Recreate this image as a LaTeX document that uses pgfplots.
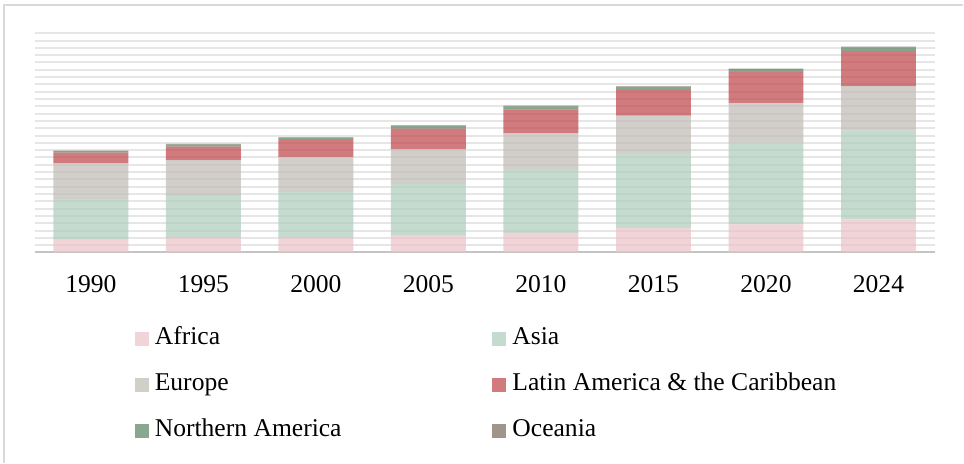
\documentclass[border=0pt]{standalone}
\usepackage{fontspec}
\setmainfont{Liberation Serif}
\usepackage{pgfplots}
\usepackage{pgfplotstable}
\pgfplotsset{compat=1.18}
\definecolor{cAfr}{HTML}{EAC2C7}
\definecolor{cAsia}{HTML}{AECDBC}
\definecolor{cEur}{HTML}{C0BAB3}
\definecolor{cLA}{HTML}{BF444A}
\definecolor{cNA}{HTML}{558360}
\definecolor{cOc}{HTML}{77695B}
\definecolor{gridC}{HTML}{E6E6E6}
\definecolor{axisC}{HTML}{C4C4C4}
\definecolor{frameC}{HTML}{D9D9D9}
\pgfplotsset{legimg/.style={legend image code/.code={\fill[##1] (0bp,-0.5bp) rectangle (7bp,6.5bp);}}}
\pgfplotstableread{
x Afr Asia Eur LA NA Oc
0 18.3 55.1 48.8 14.5 2.0 0.7
1 20.1 57.4 48.8 18.6 2.8 0.8
2 20.1 62.9 47.9 23.2 2.7 0.8
3 23.8 69.7 47.9 28.2 3.7 0.8
4 26.9 85.7 50.6 32.8 4.1 0.8
5 33.8 102.1 51.4 35.1 4.1 0.8
6 38.3 112.1 54.3 42.0 4.1 0.8
7 45.1 121.7 60.7 48.3 5.0 0.8
}\datatab
\begin{document}
\begin{tikzpicture}[font=\fontsize{12.8bp}{14bp}\selectfont]
\fill[white] (0,0) rectangle (482bp,-231.5bp);
\draw[line width=1bp, color=frameC] (2bp,-231.5bp) -- (2bp,-2.35bp) -- (482bp,-2.35bp);
\begin{axis}[
 at={(17.35bp,-126.35bp)}, anchor=south west,
 scale only axis, width=450.5bp, height=109.7bp,
 ybar stacked, bar width=37.5bp,
 xmin=-0.5, xmax=7.5, ymin=0, ymax=300,
 xtick=data, xticklabels={1990,1995,2000,2005,2010,2015,2020,2024},
 ytick={10,20,...,300}, yticklabels={},
 major tick length=0pt,
 ymajorgrids, grid style={draw=gridC, line width=1bp},
 axis line style={draw=none},
 extra y ticks={0}, extra y tick labels={},
 extra y tick style={grid style={draw=axisC, line width=1bp}},
 xticklabel style={anchor=base, yshift=-19.8bp},
 /pgf/number format/assume math mode=true,
 legend columns=2,
 legend style={at={(0.11132,-0.3387)}, anchor=north west, draw=none, fill=none,
   inner sep=0pt, outer sep=0pt, row sep=11bp,
   nodes={anchor=base west, inner sep=0pt, outer sep=0pt, text height=9bp, text depth=3bp},
   /tikz/every odd column/.append style={column sep=3bp}},
]
\addplot[legimg, fill=cAfr, draw=none, fill opacity=0.7] table[x=x, y=Afr] {\datatab};
\addlegendentry{\makebox[169bp][l]{Africa}}
\addplot[legimg, fill=cAsia, draw=none, fill opacity=0.7] table[x=x, y=Asia] {\datatab};
\addlegendentry{Asia}
\addplot[legimg, fill=cEur, draw=none, fill opacity=0.7] table[x=x, y=Eur] {\datatab};
\addlegendentry{\makebox[169bp][l]{Europe}}
\addplot[legimg, fill=cLA, draw=none, fill opacity=0.7] table[x=x, y=LA] {\datatab};
\addlegendentry{Latin America \& the Caribbean}
\addplot[legimg, fill=cNA, draw=none, fill opacity=0.7] table[x=x, y=NA] {\datatab};
\addlegendentry{\makebox[169bp][l]{Northern America}}
\addplot[legimg, fill=cOc, draw=none, fill opacity=0.7] table[x=x, y=Oc] {\datatab};
\addlegendentry{Oceania}
\end{axis}
\end{tikzpicture}
\end{document}
